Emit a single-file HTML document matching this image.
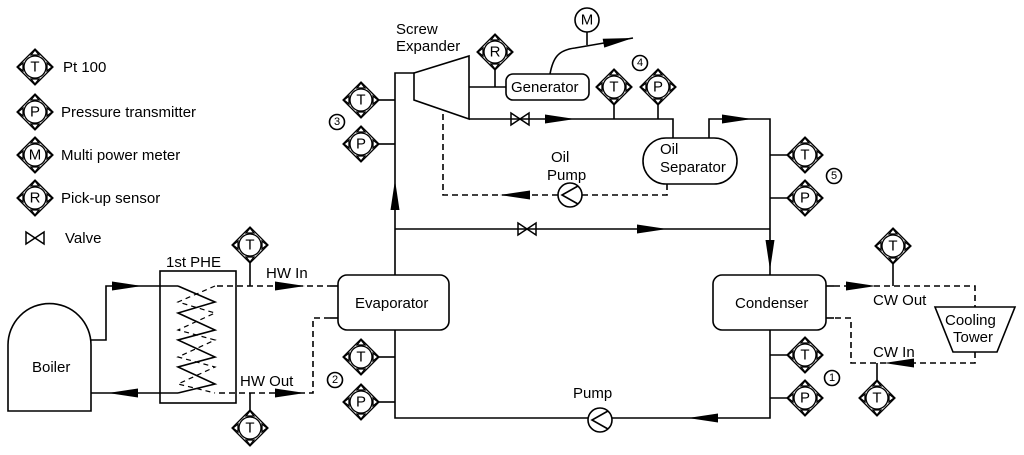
<!DOCTYPE html>
<html><head><meta charset="utf-8"><style>
html,body{margin:0;padding:0;background:#fff;}
svg{display:block;}
text{font-family:"Liberation Sans",Arial,sans-serif;fill:#000;}
</style></head><body>
<svg width="1024" height="455" viewBox="0 0 1024 455" xmlns="http://www.w3.org/2000/svg">
<defs>
<g id="ins" fill="none" stroke="#000" stroke-width="1.3">
<polygon points="0,-18 18,0 0,18 -18,0" fill="#fff"/>
<circle r="11" fill="#fff"/>
<polyline points="-17,0 -12,-4 -12,4 -17,0"/>
<polyline points="17,0 12,-4 12,4 17,0"/>
<polyline points="0,-17 -4,-12 4,-12 0,-17"/>
<polyline points="0,17 -4,12 4,12 0,17"/>
</g>
<g id="valve" fill="none" stroke="#000" stroke-width="1.5"><polygon points="-9,-6 9,6 9,-6 -9,6"/></g>
<g id="ar"><polygon points="0,0 -30,-4.5 -30,4.5" fill="#000"/></g>
</defs>
<g fill="none" stroke="#000" stroke-width="1.6">
<polyline points="414,73 395,73 395,418 770,418 770,119 709,119 709,138"/>
<line x1="395" y1="229" x2="770" y2="229"/>
<polygon points="414,73 469,56 469,119 414,100" fill="#fff"/>
<line x1="469" y1="87" x2="506" y2="87"/>
<line x1="495" y1="70" x2="495" y2="87"/>
<rect x="506" y="74" width="83" height="26" rx="7" fill="#fff"/>
<path d="M550,74 C553,58 558,50 575,48 L633,38"/>
<line x1="587" y1="32" x2="587" y2="45"/>
<circle cx="587" cy="20" r="12" fill="#fff"/>
<polyline points="469,119 673,119 673,138"/>
<line x1="614" y1="105" x2="614" y2="119"/>
<line x1="658" y1="105" x2="658" y2="119"/>
<rect x="643" y="138" width="94" height="46" rx="23" fill="#fff"/>
<polyline points="667,184 667,195 443,195 443,112" stroke-dasharray="6,4"/>
<circle cx="570" cy="195" r="12" fill="#fff"/>
<polyline points="578,186 562,195 578,204"/>
<rect x="338" y="275" width="111" height="55" rx="9" fill="#fff"/>
<rect x="713" y="275" width="113" height="55" rx="9" fill="#fff"/>
<line x1="330" y1="286" x2="338" y2="286"/><line x1="330" y1="318" x2="338" y2="318"/>
<line x1="826" y1="286" x2="834" y2="286"/><line x1="826" y1="318" x2="834" y2="318"/>
<circle cx="600" cy="420" r="12" fill="#fff"/>
<polyline points="608,411 592,420 608,429"/>
<line x1="379" y1="100" x2="395" y2="100"/><line x1="379" y1="144" x2="395" y2="144"/>
<line x1="379" y1="357" x2="395" y2="357"/><line x1="379" y1="402" x2="395" y2="402"/>
<line x1="770" y1="155" x2="787" y2="155"/><line x1="770" y1="198" x2="787" y2="198"/>
<line x1="770" y1="355" x2="787" y2="355"/><line x1="770" y1="398" x2="787" y2="398"/>
<polyline points="217,286 330,286" stroke-dasharray="6,4"/>
<polyline points="330,318 313,318 313,393 217,393" stroke-dasharray="6,4"/>
<line x1="250" y1="263" x2="250" y2="286"/>
<line x1="250" y1="393" x2="250" y2="410"/>
<rect x="160" y="271" width="76" height="132" fill="none"/>
<polyline points="178,286 215,302 178,313 215,330 178,340 215,357 178,367 215,384 178,393"/>
<polyline points="215,286 178,302 215,313 178,330 215,340 178,357 215,367 178,384 215,393" stroke-dasharray="5,4" stroke-width="1.2"/>
<polyline points="91,340 106,340 106,286 178,286"/>
<line x1="91" y1="393" x2="178" y2="393"/>
<path d="M8,411 L8,345 A41.5,41.5 0 0 1 91,345 L91,411 Z" fill="#fff"/>
<polyline points="834,286 975,286 975,307" stroke-dasharray="6,4"/>
<polyline points="975,352 975,363 851,363 851,318 834,318" stroke-dasharray="6,4"/>
<line x1="893" y1="264" x2="893" y2="286"/>
<line x1="877" y1="363" x2="877" y2="380"/>
<polygon points="935,307 1015,307 997,352 953,352" fill="#fff"/>
<circle cx="337" cy="122" r="7.5"/><circle cx="640" cy="63" r="7.5"/><circle cx="834" cy="176" r="7.5"/>
<circle cx="335" cy="380" r="7.5"/><circle cx="832" cy="378" r="7.5"/>
</g>
<use href="#valve" x="520" y="119"/><use href="#valve" x="527" y="229"/><use href="#valve" x="35" y="238"/>
<use href="#ar" transform="translate(575,119)"/>
<use href="#ar" transform="translate(752,119)"/>
<use href="#ar" transform="translate(667,229)"/>
<use href="#ar" transform="translate(633,38) rotate(-10)"/>
<use href="#ar" transform="translate(500,195) rotate(180)"/>
<use href="#ar" transform="translate(395,180) rotate(-90)"/>
<use href="#ar" transform="translate(770,270) rotate(90)"/>
<use href="#ar" transform="translate(688,418) rotate(180)"/>
<use href="#ar" transform="translate(142,286)"/>
<use href="#ar" transform="translate(108,393) rotate(180)"/>
<use href="#ar" transform="translate(305,286)"/>
<use href="#ar" transform="translate(305,393)"/>
<use href="#ar" transform="translate(876,286)"/>
<use href="#ar" transform="translate(884,363) rotate(180)"/>
<use href="#ins" x="35" y="67"/><use href="#ins" x="35" y="112"/><use href="#ins" x="35" y="155"/><use href="#ins" x="35" y="198"/>
<use href="#ins" x="361" y="100"/><use href="#ins" x="361" y="144"/>
<use href="#ins" x="495" y="52"/>
<use href="#ins" x="614" y="87"/><use href="#ins" x="658" y="87"/>
<use href="#ins" x="805" y="155"/><use href="#ins" x="805" y="198"/>
<use href="#ins" x="361" y="357"/><use href="#ins" x="361" y="402"/>
<use href="#ins" x="805" y="355"/><use href="#ins" x="805" y="398"/>
<use href="#ins" x="250" y="245"/><use href="#ins" x="250" y="428"/>
<use href="#ins" x="893" y="246"/><use href="#ins" x="877" y="398"/>
<g font-size="15" text-anchor="middle" dominant-baseline="central">
<text x="35" y="67">T</text><text x="35" y="112">P</text><text x="35" y="155">M</text><text x="35" y="198">R</text>
<text x="361" y="100">T</text><text x="361" y="144">P</text><text x="495" y="52">R</text><text x="587" y="20">M</text>
<text x="614" y="87">T</text><text x="658" y="87">P</text>
<text x="805" y="155">T</text><text x="805" y="198">P</text>
<text x="361" y="357">T</text><text x="361" y="402">P</text>
<text x="805" y="355">T</text><text x="805" y="398">P</text>
<text x="250" y="245">T</text><text x="250" y="428">T</text><text x="893" y="246">T</text><text x="877" y="398">T</text>
</g>
<g font-size="11" text-anchor="middle" dominant-baseline="central">
<text x="337" y="122">3</text><text x="640" y="63">4</text><text x="834" y="176">5</text><text x="335" y="380">2</text><text x="832" y="378">1</text>
</g>
<g font-size="15">
<text x="63" y="72">Pt 100</text>
<text x="61" y="117">Pressure transmitter</text>
<text x="61" y="160">Multi power meter</text>
<text x="61" y="203">Pick-up sensor</text>
<text x="65" y="243">Valve</text>
<text x="396" y="34">Screw</text><text x="396" y="51">Expander</text>
<text x="511" y="92">Generator</text>
<text x="660" y="154">Oil</text><text x="660" y="172">Separator</text>
<text x="551" y="162">Oil</text><text x="547" y="180">Pump</text>
<text x="355" y="308">Evaporator</text>
<text x="735" y="308">Condenser</text>
<text x="573" y="398">Pump</text>
<text x="166" y="267">1st PHE</text>
<text x="266" y="278">HW In</text>
<text x="240" y="386">HW Out</text>
<text x="32" y="372">Boiler</text>
<text x="873" y="305">CW Out</text>
<text x="873" y="357">CW In</text>
<text x="945" y="325">Cooling</text><text x="953" y="342">Tower</text>
</g>
</svg>
</body></html>
